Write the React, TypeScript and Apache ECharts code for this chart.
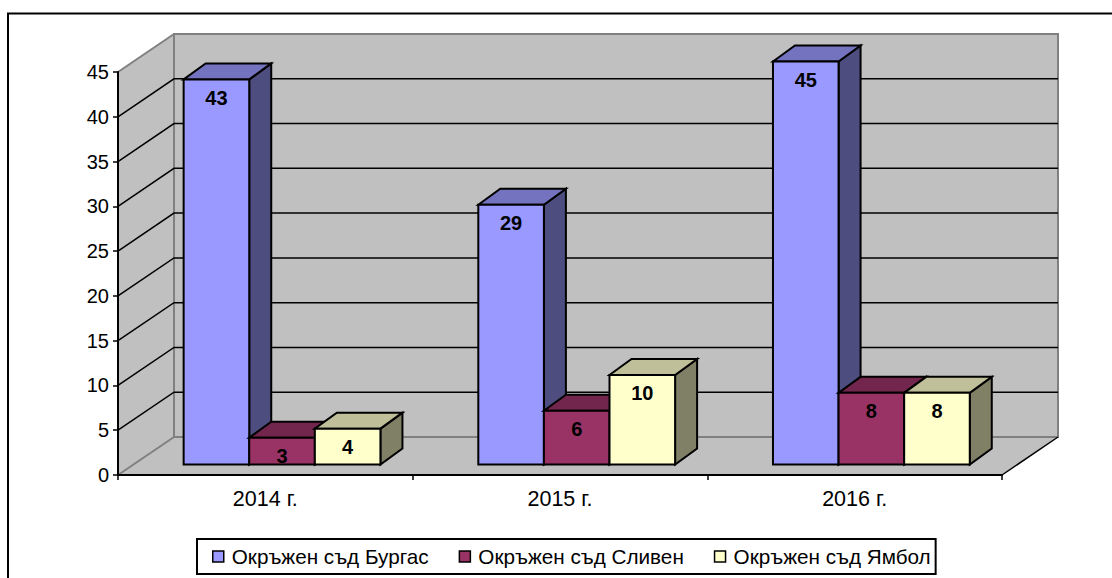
import React, { useEffect, useRef } from "react";
import * as echarts from "echarts";

const categories = ["2014 г.", "2015 г.", "2016 г."];
const seriesNames = ["Окръжен съд Бургас", "Окръжен съд Сливен", "Окръжен съд Ямбол"];
const burgas = [43, 29, 45];
const sliven = [3, 6, 8];
const yambol = [4, 10, 8];
const tickValues = [0, 5, 10, 15, 20, 25, 30, 35, 40, 45];

const front = ["#9999FF", "#993366", "#FFFFCC"];
const top = ["#7373BF", "#73264D", "#BFBF99"];
const side = ["#4D4D80", "#4D1A33", "#808066"];

const WALL_DX = 56;
const WALL_DY = -38;
const BAR_SHIFT_X = 16.7;
const BAR_SHIFT_Y = -10.5;
const BAR_W = 65.6;
const BAR_DX = 22;
const BAR_DY = -16;
const FONT = "'Liberation Sans', Arial, sans-serif";

function barSeries(name: string, values: number[], idx: number) {
  return {
    type: "custom",
    name,
    coordinateSystem: "cartesian2d",
    z: 5 + idx,
    data: values.map((v, i) => [i, v]),
    renderItem: (_p: any, api: any) => {
      const c = api.coord([api.value(0), api.value(1)]);
      const b = api.coord([api.value(0), 0]);
      const x0 = c[0] + BAR_SHIFT_X + (idx - 1.5) * BAR_W;
      const x1 = x0 + BAR_W;
      const yT = c[1] + BAR_SHIFT_Y;
      const yB = b[1] + BAR_SHIFT_Y;
      const line = { stroke: "#000", lineWidth: 2, lineJoin: "miter" };
      return {
        type: "group",
        children: [
          {
            type: "polygon",
            shape: { points: [[x1, yT], [x1 + BAR_DX, yT + BAR_DY], [x1 + BAR_DX, yB + BAR_DY], [x1, yB]] },
            style: { fill: side[idx], ...line },
          },
          {
            type: "polygon",
            shape: { points: [[x0, yT], [x0 + BAR_DX, yT + BAR_DY], [x1 + BAR_DX, yT + BAR_DY], [x1, yT]] },
            style: { fill: top[idx], ...line },
          },
          {
            type: "rect",
            shape: { x: x0, y: yT, width: BAR_W, height: yB - yT },
            style: { fill: front[idx], ...line },
          },
          {
            type: "text",
            style: {
              x: (x0 + x1) / 2,
              y: yT + 18.5,
              text: String(api.value(1)),
              fill: "#000",
              font: `bold 20px ${FONT}`,
              textAlign: "center",
              textVerticalAlign: "middle",
            },
          },
        ],
      };
    },
  };
}

const wallSeries = {
  type: "custom",
  name: "wall",
  coordinateSystem: "cartesian2d",
  z: 1,
  silent: true,
  data: [[0, 0]],
  renderItem: (_p: any, api: any) => {
    const max = tickValues[tickValues.length - 1];
    const bl = api.coord([0, 0]);
    const tl = api.coord([0, max]);
    const size = api.size([1, 0]);
    const left = bl[0] - size[0] / 2;
    const right = left + size[0] * categories.length;
    const yB = bl[1];
    const yT = tl[1];
    const gray = { stroke: "#808080", lineWidth: 2 };
    const children: any[] = [
      {
        type: "polygon",
        shape: { points: [[left, yB], [left + WALL_DX, yB + WALL_DY], [right + WALL_DX, yB + WALL_DY], [right, yB]] },
        style: { fill: "#C0C0C0" },
      },
      {
        type: "polygon",
        shape: { points: [[left, yB], [left + WALL_DX, yB + WALL_DY], [left + WALL_DX, yT + WALL_DY], [left, yT]] },
        style: { fill: "#C0C0C0" },
      },
      {
        type: "rect",
        shape: { x: left + WALL_DX, y: yT + WALL_DY, width: right - left, height: yB - yT },
        style: { fill: "#C0C0C0", ...gray },
      },
      { type: "line", shape: { x1: left, y1: yB, x2: left + WALL_DX, y2: yB + WALL_DY }, style: gray },
      { type: "line", shape: { x1: left, y1: yT, x2: left + WALL_DX, y2: yT + WALL_DY }, style: gray },
      {
        type: "line",
        shape: { x1: right, y1: yB, x2: right + WALL_DX, y2: yB + WALL_DY },
        style: { stroke: "#000", lineWidth: 1.5 },
      },
    ];
    tickValues.slice(1, -1).forEach((t) => {
      const y = api.coord([0, t])[1];
      children.push({
        type: "polyline",
        shape: { points: [[left, y], [left + WALL_DX, y + WALL_DY], [right + WALL_DX, y + WALL_DY]] },
        style: { stroke: "#000", lineWidth: 1.5, fill: "none" },
      });
    });
    return { type: "group", children };
  },
};

export default function App() {
  const ref = useRef<HTMLDivElement>(null);
  useEffect(() => {
    document.body.style.margin = "0";
    const chart = echarts.init(ref.current!, null, { renderer: "svg" });
    chart.setOption({
      animation: false,
      backgroundColor: "#fff",
      textStyle: { fontFamily: FONT },
      grid: { left: 118, top: 72, width: 884, height: 403, containLabel: false },
      graphic: [
        {
          type: "rect",
          z: 0,
          shape: { x: 8, y: 13.5, width: 1200, height: 700 },
          style: { fill: "none", stroke: "#000", lineWidth: 2 },
        },
      ],
      xAxis: {
        type: "category",
        data: categories,
        z: 20,
        axisLine: { lineStyle: { color: "#000", width: 2 } },
        axisTick: { show: true, alignWithLabel: false, length: 5, lineStyle: { color: "#000", width: 1.5 } },
        axisLabel: { color: "#000", fontSize: 21.5, margin: 13, fontFamily: FONT },
        splitLine: { show: false },
      },
      yAxis: {
        type: "value",
        min: 0,
        max: 45,
        interval: 5,
        z: 20,
        axisLine: { show: true, lineStyle: { color: "#000", width: 2 } },
        axisTick: { show: true, length: 5, lineStyle: { color: "#000", width: 1.5 } },
        axisLabel: { color: "#000", fontSize: 20, margin: 9, fontFamily: FONT },
        splitLine: { show: false },
      },
      legend: {
        left: 197,
        top: 539,
        orient: "horizontal",
        itemWidth: 11,
        itemHeight: 11,
        itemGap: 30,
        padding: [7, 5, 7, 15],
        backgroundColor: "#fff",
        borderColor: "#000",
        borderWidth: 2,
        borderRadius: 0,
        textStyle: { color: "#000", fontSize: 20.7, fontFamily: FONT, padding: [0, 0, 0, 3] },
        data: seriesNames.map((name, i) => ({
          name,
          icon: "rect",
          itemStyle: { color: front[i], borderColor: "#000", borderWidth: 1.5 },
        })),
      },
      series: [
        wallSeries,
        barSeries(seriesNames[0], burgas, 0),
        barSeries(seriesNames[1], sliven, 1),
        barSeries(seriesNames[2], yambol, 2),
      ],
    });
    return () => chart.dispose();
  }, []);
  return <div ref={ref} style={{ width: 1112, height: 578 }} />;
}
